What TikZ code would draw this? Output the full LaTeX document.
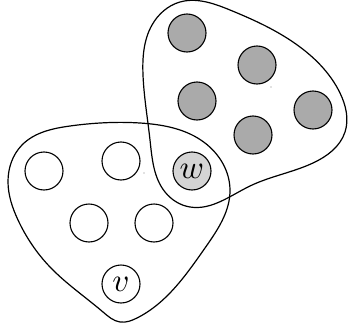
\documentclass[tikz,border=0pt]{standalone}
\usepackage{graphicx}
\usetikzlibrary{hobby}
\definecolor{darkfill}{RGB}{170,170,170}
\definecolor{lightfill}{RGB}{212,212,212}
\newcommand{\biglab}[1]{\scalebox{3.3}{$#1$}}
\tikzset{
  vtx/.style={circle, draw=black, line width=1.1pt, minimum size=38pt, inner sep=0pt, fill=white},
  grayvtx/.style={vtx, fill=darkfill},
  wvtx/.style={vtx, fill=lightfill},
  hull/.style={line width=1.2pt, black, use Hobby shortcut, closed=true},
  dotmark/.style={circle, fill=black!50, inner sep=0pt, minimum size=1.2pt}
}
\begin{document}
\begin{tikzpicture}[x=1pt,y=-1pt]
\useasboundingbox (0,0) rectangle (348,332);
% right hull
\draw[hull] (143,75) .. (152,25) .. (180,2) .. (230,10) .. (300,47) .. (340,93)
  .. (345,132) .. (313,163) .. (250,186) .. (190,207) .. (165,192) .. (150,140);
% left hull
\draw[hull] (8,182) .. (22,145) .. (70,126) .. (140,123) .. (205,143) .. (230,190)
  .. (205,248) .. (137,318) .. (120,322) .. (103,312) .. (50,267) .. (18,220);
% vertices
\node[vtx] (a) at (44,171) {};
\node[vtx] (b) at (121,161) {};
\node[vtx] (c) at (89,223) {};
\node[vtx] (d) at (154,223) {};
\node[vtx] (v) at (121,284) {\biglab{v}};
\node[wvtx] (w) at (192,171) {\biglab{w}};
\node[grayvtx] (g1) at (187,33) {};
\node[grayvtx] (g2) at (257,65) {};
\node[grayvtx] (g3) at (197,101) {};
\node[grayvtx] (g4) at (313,110) {};
\node[grayvtx] (g5) at (253,135) {};
\node[dotmark] (p1) at (144,173) {};
\node[dotmark] (p2) at (271,87) {};
\end{tikzpicture}
\end{document}
